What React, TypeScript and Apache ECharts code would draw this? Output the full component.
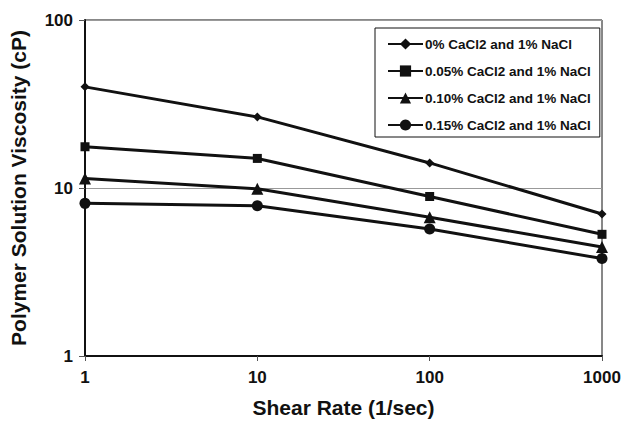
import React, { useEffect, useRef } from "react";
import * as echarts from "echarts";

const shearRates = [1, 10, 100, 1000];
const seriesNames = [
  "0% CaCl2 and 1% NaCl",
  "0.05% CaCl2 and 1% NaCl",
  "0.10% CaCl2 and 1% NaCl",
  "0.15% CaCl2 and 1% NaCl",
];
const visc0 = [40, 26.5, 14.1, 7.0];
const visc005 = [17.6, 15.0, 8.9, 5.3];
const visc010 = [11.4, 9.9, 6.7, 4.45];
const visc015 = [8.1, 7.85, 5.7, 3.8];
const symbols = ["diamond", "rect", "triangle", "circle"];
const symbolSizes = [9, 9, 12, 11];

const FONT = "'Liberation Sans', Arial, Helvetica, sans-serif";

export default function App() {
  const ref = useRef<HTMLDivElement>(null);
  useEffect(() => {
    if (!ref.current) return;
    const chart = echarts.init(ref.current, undefined, { renderer: "svg" });
    const allValues = [visc0, visc005, visc010, visc015];
    chart.setOption({
      animation: false,
      backgroundColor: "#fff",
      textStyle: { fontFamily: FONT },
      grid: {
        left: 85,
        right: 22,
        top: 20,
        bottom: 66,
        show: true,
        borderColor: "#111",
        borderWidth: 1,
      },
      legend: {
        orient: "vertical",
        left: 375,
        top: 28,
        padding: [9, 9, 5, 12],
        itemGap: 13,
        itemWidth: 35,
        itemHeight: 14,
        backgroundColor: "#fff",
        borderColor: "#111",
        borderWidth: 1,
        borderRadius: 0,
        textStyle: { fontFamily: FONT, fontWeight: "bold", fontSize: 13.5, color: "#111", padding: [0, 0, 0, -3] },
        data: seriesNames,
      },
      xAxis: {
        type: "log",
        logBase: 10,
        min: 1,
        max: 1000,
        name: "Shear Rate (1/sec)",
        nameLocation: "middle",
        nameGap: 41,
        nameTextStyle: { fontFamily: FONT, fontWeight: "bold", fontSize: 21, color: "#111" },
        axisLine: { lineStyle: { color: "#111", width: 2 } },
        axisTick: { show: true, length: 5, lineStyle: { color: "#555" } },
        axisLabel: {
          fontFamily: FONT,
          fontWeight: "bold",
          fontSize: 17,
          color: "#111",
          margin: 13,
          formatter: (v: number) => String(Math.round(v)),
        },
        splitLine: { show: false },
        minorTick: { show: false },
      },
      yAxis: {
        type: "log",
        logBase: 10,
        min: 1,
        max: 100,
        name: "Polymer Solution Viscosity (cP)",
        nameLocation: "middle",
        nameGap: 56,
        nameTextStyle: { fontFamily: FONT, fontWeight: "bold", fontSize: 21, color: "#111" },
        axisLine: { lineStyle: { color: "#111", width: 2 } },
        axisTick: { show: true, length: 6, lineStyle: { color: "#555" } },
        axisLabel: {
          fontFamily: FONT,
          fontWeight: "bold",
          fontSize: 17,
          color: "#111",
          margin: 12,
          formatter: (v: number) => String(Math.round(v)),
        },
        splitLine: { show: true, lineStyle: { color: "#999", width: 1 } },
        minorTick: { show: false },
      },
      series: seriesNames.map((name, i) => ({
        name,
        type: "line",
        data: shearRates.map((x, j) => [x, allValues[i][j]]),
        symbol: symbols[i],
        symbolSize: symbolSizes[i],
        showAllSymbol: true,
        lineStyle: { color: "#111", width: 3 },
        itemStyle: { color: "#111", borderWidth: 0 },
        emphasis: { disabled: true },
      })),
    });
    return () => chart.dispose();
  }, []);
  return <div ref={ref} style={{ width: 624, height: 423, position: "absolute", left: 0, top: 0 }} />;
}
